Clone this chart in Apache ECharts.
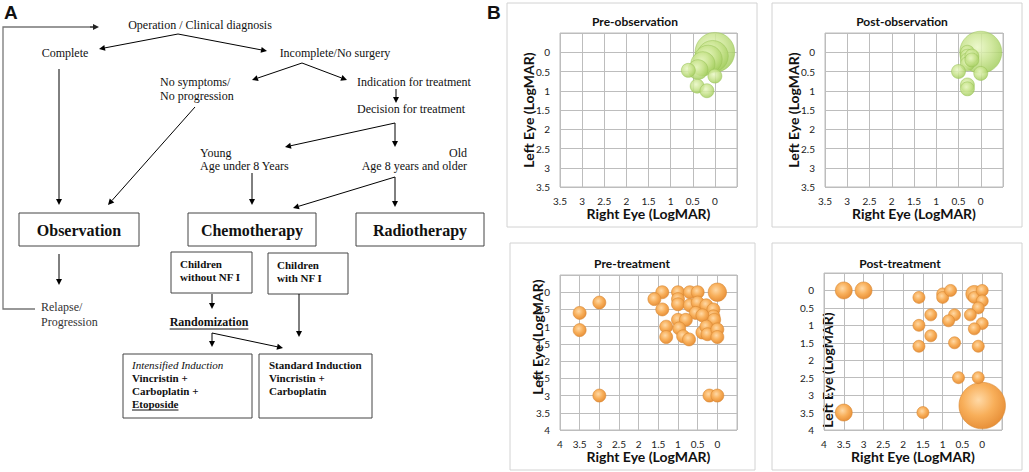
<!DOCTYPE html>
<html><head><meta charset="utf-8">
<script src="https://cdn.jsdelivr.net/npm/echarts@6/dist/echarts.min.js"></script>
<style>html,body{margin:0;padding:0;background:#fff}#c{width:1029px;height:472px}</style>
</head><body><div id="c"></div>
<script>
// ---------------- DATA (LogMAR values) ----------------
// Pre-observation
const preObsRight = [0, 0.05, 0.15, 0.27, 0.38, 0.6, 0, 0.4, 0.18];
const preObsLeft  = [0, 0.1, 0.18, 0.3, 0.45, 0.47, 0.62, 0.88, 1.0];
const preObsCount = [8, 5, 4, 3, 2, 1, 1, 1, 1];
// Post-observation
const postObsRight = [0, 0.3, 0.3, 0.3, 0.3, 0.2, 0.2, 0.5, 0, 0.3, 0.3];
const postObsLeft  = [0, 0, 0.1, 0.2, 0.3, 0.1, 0.2, 0.5, 0.55, 0.85, 0.95];
const postObsCount = [9, 1, 1, 1, 1, 1, 1, 1, 1, 1, 1];
// Pre-treatment
const preTrtRight = [3, 3.5, 3.5, 3, 0.2, 0, 0, 1.4, 1.6, 1.4, 1.0, 1.0, 1.0, 0.7, 0.5, 0.7, 0.5, 0.55, 0.28, 0.1, 0.1, 0.38, 0.08, 1.0, 0.8, 0.97, 1.3, 1.3, 0.87, 0.72, 0.38, 0.28, 0.25, 0, 0];
const preTrtLeft  = [0.3, 0.6, 1.1, 3.0, 3.0, 3.0, 0, 0, 0.2, 0.5, 0, 0.2, 0.35, 0, 0, 0.38, 0.3, 0.6, 0.38, 0.5, 0.7, 0.67, 0.8, 0.8, 0.8, 1.05, 1.0, 1.3, 1.28, 1.37, 1.17, 1.0, 1.22, 1.08, 1.3];
const preTrtCount = [1, 1, 1, 1, 1, 1, 2, 1, 1, 1, 1, 1, 1, 1, 1, 1, 1, 1, 1, 1, 1, 1, 1, 1, 1, 1, 1, 1, 1, 1, 1, 1, 1, 1, 1];
// Post-treatment
const postTrtRight = [3.5, 3, 3.5, 1.5, 0, 1.6, 1.0, 1.0, 0.8, 0.2, 0.2, 0, 0, 0.1, 1.3, 0.7, 0.85, 0.3, 0, 0.2, 1.6, 1.3, 1.6, 0.7, 0.1, 0.6, 0.1];
const postTrtLeft  = [0, 0, 3.5, 3.5, 3.3, 0.2, 0.1, 0.2, 0, 0.1, 0.2, 0, 0.3, 0.5, 0.7, 0.7, 0.87, 0.7, 0.95, 1.1, 1.0, 1.3, 1.6, 1.5, 1.6, 2.5, 2.5];
const postTrtCount = [2, 2, 2, 1, 15, 1, 1, 1, 1, 2, 1, 1, 1, 1, 1, 1, 1, 1, 1, 1, 1, 1, 1, 1, 1, 1, 1];

const chartTitles = ['Pre-observation', 'Post-observation', 'Pre-treatment', 'Post-treatment'];
const xName = 'Right Eye (LogMAR)';
const yName = 'Left Eye (LogMAR)';

// ---------------- LAYOUT ----------------
const SANS = 'Lato';
const SERIF = '"Liberation Serif", "Times New Roman", serif';
const g = [];
function txt(x, y, s, font, align, color) {
  g.push({type: 'text', x: x, y: y, style: {text: s, font: font || ('12px ' + SERIF), fill: color || '#111',
    textAlign: align || 'left', textVerticalAlign: 'middle', align: align || 'left', verticalAlign: 'middle'}});
}
function line(x1, y1, x2, y2, color, w) {
  g.push({type: 'line', shape: {x1: x1, y1: y1, x2: x2, y2: y2}, style: {stroke: color || '#000', lineWidth: w || 1}});
}
function arrow(x1, y1, x2, y2, color) {
  const a = Math.atan2(y2 - y1, x2 - x1), L = 6, W = 3;
  const bx = x2 - L * Math.cos(a), by = y2 - L * Math.sin(a);
  line(x1, y1, bx, by, color);
  g.push({type: 'polygon', shape: {points: [[x2, y2], [bx + W * Math.sin(a), by - W * Math.cos(a)], [bx - W * Math.sin(a), by + W * Math.cos(a)]]},
    style: {fill: color || '#000'}});
}
function box(x, y, w, h, color) {
  g.push({type: 'rect', shape: {x: x, y: y, width: w, height: h}, style: {fill: 'none', stroke: color || '#444', lineWidth: 1}});
}
const mctx = document.createElement('canvas').getContext('2d');
function underline(x, y, s, font, align) {
  mctx.font = font; const w = mctx.measureText(s).width;
  const x0 = align === 'center' ? x - w / 2 : x;
  line(x0, y, x0 + w, y, '#111', 1);
}

// Panel letters
txt(4, 12, 'A', 'bold 19px "Liberation Sans", Arial, sans-serif');
txt(487, 12, 'B', 'bold 19px "Liberation Sans", Arial, sans-serif');

// Flowchart
const R12 = '12px ' + SERIF, B16 = 'bold 16px ' + SERIF, B11 = 'bold 11px ' + SERIF, I11 = 'italic 11px ' + SERIF, B12 = 'bold 12px ' + SERIF;
txt(200, 25, 'Operation / Clinical diagnosis', R12, 'center');
arrow(178, 34, 99, 49); arrow(178, 34, 267, 51);
txt(65, 53, 'Complete', R12, 'center');
txt(335, 53, 'Incomplete/No surgery', R12, 'center');
arrow(302, 63, 252, 80); arrow(302, 63, 347, 80);
txt(160, 82, 'No symptoms/', R12); txt(160, 96, 'No progression', R12);
txt(357, 82, 'Indication for treatment', R12);
arrow(396, 89, 396, 103);
txt(357, 109, 'Decision for treatment', R12);
arrow(395, 123, 285, 147); arrow(395, 123, 395, 147);
txt(200, 153, 'Young', R12); txt(200, 166, 'Age under 8 Years', R12);
txt(467, 153, 'Old', R12, 'right'); txt(467, 166, 'Age 8 years and older', R12, 'right');
arrow(252, 173, 252, 205);
arrow(395, 177, 293, 208); arrow(395, 177, 395, 207);
arrow(59, 69, 59, 205);
arrow(195, 107, 108, 205);
box(19, 213, 120, 33); txt(79, 230, 'Observation', B16, 'center');
box(188, 213, 128, 33); txt(252, 230, 'Chemotherapy', B16, 'center');
box(356, 213, 128, 33); txt(420, 230, 'Radiotherapy', B16, 'center');
arrow(59, 254, 59, 285);
txt(41, 307, 'Relapse/', R12, 'left', '#333'); txt(41, 322, 'Progression', R12, 'left', '#333');
g.push({type: 'polyline', shape: {points: [[35, 309], [3, 309], [3, 27], [93, 27]]}, style: {stroke: '#777', lineWidth: 1.3, fill: 'none'}});
arrow(90, 27, 99, 27, '#222');
box(171, 252, 81, 41); txt(180, 264, 'Children', B11); txt(180, 277, 'without NF I', B11);
box(268, 253, 80, 41); txt(277, 265, 'Children', B11); txt(277, 278, 'with NF I', B11);
arrow(212, 294, 212, 309);
txt(209, 322, 'Randomization', B12, 'center'); underline(209, 329, 'Randomization', B12, 'center');
arrow(212, 333, 212, 347); arrow(212, 333, 283, 348);
arrow(299, 294, 299, 337);
box(123, 354, 129, 64);
txt(132, 365, 'Intensified Induction', I11); txt(132, 378, 'Vincristin +', B11); txt(132, 391, 'Carboplatin +', B11); txt(132, 404, 'Etoposide', B11);
underline(132, 410, 'Etoposide', B11, 'left');
box(259, 354, 113, 64);
txt(269, 365, 'Standard Induction', B11); txt(269, 378, 'Vincristin +', B11); txt(269, 391, 'Carboplatin', B11);

// Chart frames, titles and y names
const frames = [[507, 3, 250, 224], [772, 3, 250, 224], [510, 243, 245, 227], [772, 243, 250, 227]];
frames.forEach(f => g.push({type: 'rect', z: -10, shape: {x: f[0], y: f[1], width: f[2], height: f[3]}, style: {fill: 'none', stroke: '#d2d2d2', lineWidth: 1}}));
const titlePos = [[635, 21], [902, 21], [632, 263], [900, 263]];
titlePos.forEach((p, i) => txt(p[0], p[1], chartTitles[i], 'bold 12px ' + SANS, 'center', '#111'));
const yNamePos = [[528, 110], [793, 110], [537, 337], [827, 370]];
yNamePos.forEach(p => g.push({type: 'text', x: p[0], y: p[1], rotation: Math.PI / 2,
  style: {text: yName, font: 'bold 14px ' + SANS, fill: '#111', textAlign: 'center', textVerticalAlign: 'middle', align: 'center', verticalAlign: 'middle'}}));

// Grids
const grids = [
  {left: 560, top: 33, width: 177, height: 154},
  {left: 825, top: 33, width: 178, height: 154},
  {left: 560, top: 275, width: 177, height: 155},
  {left: 824, top: 273, width: 178, height: 157}
].map(o => Object.assign({show: true, borderColor: '#bdbdbd', borderWidth: 1, containLabel: false}, o));
const maxes = [3.5, 3.5, 4, 4];
const axisCommon = {
  type: 'value', min: -0.5, interval: 0.5, inverse: true,
  axisLine: {show: false}, axisTick: {show: false},
  splitLine: {show: true, lineStyle: {color: '#bdbdbd', width: 1}},
  axisLabel: {formatter: v => (v < 0 ? '' : String(v)), fontSize: 10, color: '#222', fontFamily: SANS}
};
const xAxes = maxes.map((m, i) => Object.assign({}, axisCommon, {
  gridIndex: i, max: m, name: xName, nameLocation: 'middle', nameGap: 19,
  nameTextStyle: {fontFamily: SANS, fontWeight: 'bold', fontSize: 14, color: '#111', verticalAlign: 'top'},
  axisLabel: Object.assign({}, axisCommon.axisLabel, {margin: 9})
}));
const yAxes = maxes.map((m, i) => Object.assign({}, axisCommon, {
  gridIndex: i, max: m, axisLabel: Object.assign({}, axisCommon.axisLabel, {margin: 10})
}));

const orange = {type: 'radial', x: 0.42, y: 0.38, r: 0.62, colorStops: [
  {offset: 0, color: '#FFD9A6'}, {offset: 0.55, color: '#F8AF5A'}, {offset: 1, color: '#E8913A'}]};
const green = {type: 'radial', x: 0.42, y: 0.38, r: 0.62, colorStops: [
  {offset: 0, color: '#E9F7C4'}, {offset: 0.55, color: '#C9E48F'}, {offset: 1, color: '#A6CF62'}]};

function mk(xs, ys, ns) { return xs.map((v, i) => [v, ys[i], ns[i]]); }
const seriesDefs = [
  {data: mk(preObsRight, preObsLeft, preObsCount), unit: 14, col: green, border: '#98C257', op: 0.85},
  {data: mk(postObsRight, postObsLeft, postObsCount), unit: 14, col: green, border: '#98C257', op: 0.85},
  {data: mk(preTrtRight, preTrtLeft, preTrtCount), unit: 13, col: orange, border: '#D98A35', op: 1},
  {data: mk(postTrtRight, postTrtLeft, postTrtCount), unit: 12, col: orange, border: '#D98A35', op: 1}
];
const series = seriesDefs.map((d, i) => ({
  type: 'scatter', name: chartTitles[i], xAxisIndex: i, yAxisIndex: i, data: d.data, clip: false,
  symbolSize: (val => d.unit * Math.sqrt(val[2])),
  itemStyle: {color: d.col, borderColor: d.border, borderWidth: 0.6, opacity: d.op}
}));

const chart = echarts.init(document.getElementById('c'), null, {renderer: 'svg'});
chart.setOption({
  backgroundColor: '#fff', animation: false,
  grid: grids, xAxis: xAxes, yAxis: yAxes, series: series,
  graphic: {elements: g}
});
</script></body></html>
